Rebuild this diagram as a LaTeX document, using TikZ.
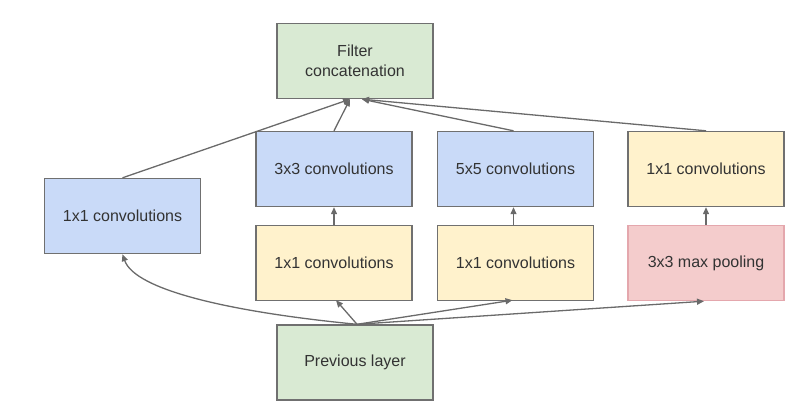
\documentclass[tikz,border=0pt]{standalone}
\usepackage{fontspec}
\setmainfont{Liberation Sans}
\usetikzlibrary{arrows.meta}
\definecolor{bordergray}{HTML}{707070}
\definecolor{linegray}{HTML}{6A6A6A}
\definecolor{txtgray}{HTML}{333333}
\definecolor{fgreen}{HTML}{D9EAD3}
\definecolor{fblue}{HTML}{C9DAF8}
\definecolor{fyellow}{HTML}{FFF2CC}
\definecolor{fred}{HTML}{F4CCCC}
\definecolor{bred}{HTML}{E4A7AD}
\tikzset{
  boxbase/.style={draw=bordergray, line width=1.4pt, minimum width=156pt, minimum height=75pt,
    inner sep=0pt, align=center, text=txtgray, font=\fontsize{16}{20}\selectfont},
  greenbox/.style={boxbase, fill=fgreen},
  bluebox/.style={boxbase, fill=fblue},
  yellowbox/.style={boxbase, fill=fyellow},
  redbox/.style={boxbase, fill=fred, draw=bred},
  conn/.style={draw=linegray, line width=1.3pt, -{Triangle[length=7pt,width=6pt]}}
}
\begin{document}
\begin{tikzpicture}[x=1pt,y=-1pt]
\useasboundingbox (0,0) rectangle (810,418);
\node[greenbox] (concat) at (355,61) {Filter\\concatenation};
\node[bluebox] (conv1) at (122.5,216) {1x1 convolutions};
\node[bluebox] (conv3) at (334,169) {3x3 convolutions};
\node[bluebox] (conv5) at (515.5,169) {5x5 convolutions};
\node[yellowbox] (convp) at (706,169) {1x1 convolutions};
\node[yellowbox] (red3) at (334,263) {1x1 convolutions};
\node[yellowbox] (red5) at (515.5,263) {1x1 convolutions};
\node[redbox] (pool) at (706,263) {3x3 max pooling};
\node[greenbox] (prev) at (355,362.5) {Previous layer};
% to concatenation
\draw[conn] (conv1.north) -- ([xshift=-5pt]concat.south);
\draw[conn] (conv3.north) -- ([xshift=-5pt]concat.south);
\draw[conn] ([xshift=-2pt]conv5.north) -- ([xshift=7pt]concat.south);
\draw[conn] (convp.north) -- ([xshift=7pt]concat.south);
% vertical
\draw[conn] (red3.north) -- (conv3.south);
\draw[conn] ([xshift=-2pt]red5.north) -- ([xshift=-2pt]conv5.south);
\draw[conn] (pool.north) -- (convp.south);
% from previous layer
\draw[conn] ([xshift=2pt]prev.north) .. controls (230,312) and (135,290) .. (conv1.south);
\draw[conn] ([xshift=2pt]prev.north) -- ([xshift=2pt,yshift=1pt]red3.south);
\draw[conn] ([xshift=2pt]prev.north) -- ([xshift=-3pt,yshift=1pt]red5.south);
\draw[conn] ([xshift=2pt]prev.north) -- ([xshift=-2pt]pool.south);
\end{tikzpicture}
\end{document}
